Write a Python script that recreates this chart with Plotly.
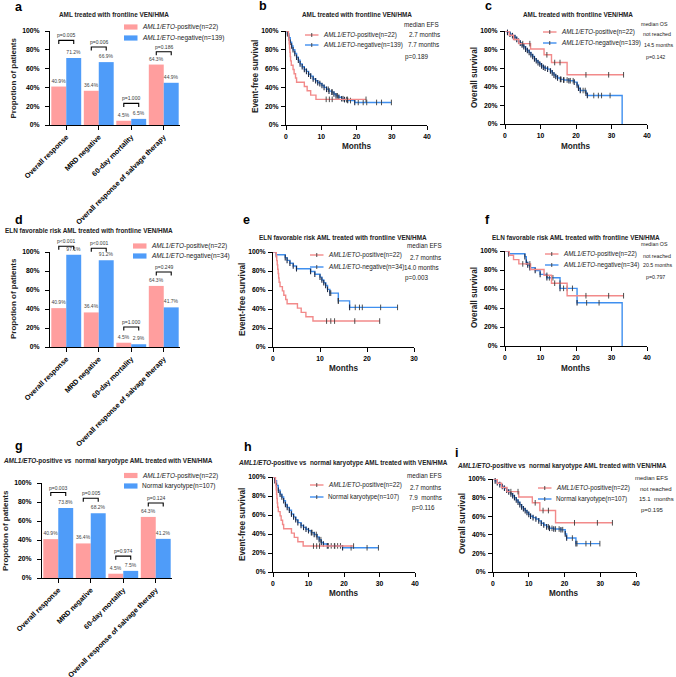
import plotly.graph_objects as go

# ---------------- data ----------------
CATEGORIES = ["Overall response", "MRD negative", "60-day mortality",
              "Overall response of salvage therapy"]
POS_RESP = [40.9, 36.4, 4.5, 64.3]          # AML1/ETO-positive (n=22)
NEG_RESP = [71.2, 66.9, 6.5, 44.9]          # AML1/ETO-negative (n=139)
FAV_NEG_RESP = [97.1, 91.2, 2.9, 41.7]      # AML1/ETO-negative (n=34), ELN favorable
NK_RESP = [73.8, 68.2, 7.5, 41.2]           # normal karyotype (n=107)
P_VALUES_A = ["p=0.005", "p=0.006", "p=1.000", "p=0.186"]
P_VALUES_D = ["p<0.001", "p<0.001", "p=1.000", "p=0.249"]
P_VALUES_G = ["p=0.003", "p=0.005", "p=0.974", "p=0.124"]

Y_TICKS = [0, 20, 40, 60, 80, 100]
Y_TICK_LABELS = ["0%", "20%", "40%", "60%", "80%", "100%"]
X_TICKS_40 = [0, 10, 20, 30, 40]
X_TICKS_30 = [0, 10, 20, 30]

# EFS, AML1/ETO-positive (n=22)
POS_EFS_T = [0, 0.7, 0.8, 0.9, 1.0, 1.1, 1.2, 1.3, 1.5, 2.0, 2.3, 2.7, 3.0, 5.2, 6.0, 7.0, 8.5, 22.7]
POS_EFS_S = [100, 95.5, 90.9, 86.4, 81.8, 77.3, 72.7, 68.2, 63.6, 59.1, 54.5, 50.0, 45.5, 40.9, 36.4, 31.8, 27.3, 27.3]
POS_EFS_CENS = [11.4, 12.3, 13.1, 17.4, 22.7]

# OS, AML1/ETO-positive (n=22)
POS_OS_T = [0, 1.2, 2.4, 3.9, 7.2, 11.0, 13.1, 17.5, 33.4]
POS_OS_S = [100, 95.5, 90.9, 86.4, 80.6, 74.4, 66.1, 52.9, 52.9]
POS_OS_CENS = [5.0, 7.0, 11.8, 14.0, 15.5, 22.8, 29.2, 33.4]

# EFS, AML1/ETO-negative (n=139)
NEG_EFS_T = [0, 0.4, 0.8, 1.2, 1.6, 2.0, 2.5, 3.0, 3.5, 4.0, 4.6, 5.2, 5.8, 6.4, 7.0, 7.7, 8.4,
             9.0, 9.6, 10.2, 10.8, 11.5, 12.2, 13.0, 13.6, 14.2, 15.0, 15.8, 16.6, 17.5, 19.5, 29.9]
NEG_EFS_S = [100, 97, 93, 88, 84, 80, 76, 72, 69, 65, 62, 59, 57, 54, 52, 49, 47,
             45, 44, 42, 40, 38, 36, 35, 33, 31, 29.5, 28, 27, 26, 24, 24]
NEG_EFS_CENS = [12.0, 13.1, 14.6, 16.2, 17.2, 18.3, 20.5, 21.9, 22.9, 25.7, 27.1, 29.9]

# OS, AML1/ETO-negative (n=139)
NEG_OS_T = [0, 0.7, 1.4, 2.1, 2.8, 3.3, 3.8, 4.3, 4.8, 5.3, 5.8, 6.3, 6.8, 7.3, 7.8, 8.3, 8.8,
            9.3, 9.8, 10.3, 10.8, 11.3, 12.0, 12.8, 13.3, 13.8, 14.3, 14.8, 15.6, 16.5, 18.0,
            19.5, 20.3, 20.7, 21.2, 22.8, 23.2, 33.0]
NEG_OS_S = [100, 98.5, 96.5, 95, 93, 91, 89, 87, 85, 83, 80.5, 79, 77, 74.5, 72.5, 70, 68,
            66, 64.5, 62.5, 61, 60, 59, 57, 55, 52.5, 51, 49.5, 48, 47.3, 46.5,
            45, 42, 38.5, 36, 33, 30.6, 0]
NEG_OS_CENS = [15.8, 16.6, 17.5, 18.4, 19.2, 22.0, 22.6, 25.0, 26.3, 27.2, 29.6]

# EFS, ELN favorable AML1/ETO-negative (n=34)
FAV_EFS_T = [0, 0.7, 2.6, 3.0, 3.6, 4.3, 5.0, 8.0, 8.9, 10.0, 10.4, 10.8, 11.2, 11.6, 12.1, 13.9, 16.3, 26.5]
FAV_EFS_S = [100, 97.1, 94.1, 91.2, 88.2, 85.3, 82.4, 79.4, 76.5, 73.5, 70.6, 67.6, 64.7, 60.7, 56.7, 48.6, 41.7, 41.7]
FAV_EFS_CENS = [12.3, 13.9, 17.5, 18.4, 19.0, 22.9, 26.5]

# OS, ELN favorable AML1/ETO-negative (n=34)
FAV_OS_T = [0, 1.0, 5.6, 6.0, 6.4, 7.0, 8.5, 9.9, 11.8, 15.5, 20.3, 33.0]
FAV_OS_S = [100, 97.1, 94.1, 88.2, 85.3, 82.4, 79.4, 75.4, 71.8, 60.7, 45.5, 0]
FAV_OS_CENS = [12.5, 13.5, 16.5, 17.5, 19.0, 23.0, 26.5]

# EFS, normal karyotype (n=107)
NK_EFS_T = [0, 0.5, 1.0, 1.5, 2.0, 2.5, 3.0, 3.5, 4.0, 4.6, 5.2, 5.8, 6.4, 7.0, 7.9, 8.6, 9.3,
            10.0, 10.8, 11.6, 12.4, 13.0, 13.6, 14.2, 15.3, 19.6, 29.7]
NK_EFS_S = [100, 96, 91, 86, 82, 79, 75, 71, 68, 65, 61, 58, 55, 52, 49, 47, 45,
            43.5, 41.5, 39.5, 37, 34, 31, 29.5, 27.5, 25.5, 25.5]
NK_EFS_CENS = [11.0, 12.2, 13.5, 15.6, 16.4, 17.3, 18.2, 19.0, 22.0, 26.5, 29.7]

# OS, normal karyotype (n=107)
NK_OS_T = [0, 0.6, 1.2, 1.9, 2.6, 3.2, 3.8, 4.4, 5.0, 5.5, 6.0, 6.5, 7.0, 7.5, 8.0, 8.5, 9.0,
           9.5, 10.0, 10.5, 11.2, 12.0, 12.8, 13.5, 14.2, 15.0, 15.8, 17.0, 19.0, 20.2, 20.6, 23.2, 29.9]
NK_OS_S = [100, 98, 96, 94, 92, 90, 88, 86, 84, 82, 80, 77.5, 75, 72.5, 70, 68, 66,
           64, 62, 60, 58.5, 57, 55, 52.5, 50.5, 48.5, 47, 46.2, 45.5, 41, 36.5, 30.5, 30.5]
NK_OS_CENS = [15.5, 16.5, 17.5, 18.5, 19.5, 22.2, 23.5, 26.0, 27.3, 29.9]

# ---------------- style / layout ----------------
W, H = 676, 677
FONT = "Arial, Liberation Sans, Helvetica, sans-serif"
RED_BAR = "#FF9E9E"
BLUE_BAR = "#4F9CF9"
RED_LINE = "#F28A8A"
BLUE_LINE = "#3F8FEF"
DARK = "#1f2a44"
TXT = "#222222"


def fx(px):
    return px / W


def fy(py):
    return 1 - py / H


# plot-area pixel boxes
PANELS = {
    "a": dict(x0=50, x1=180, yt=31, yb=125),
    "b": dict(x0=286, x1=427, yt=31, yb=125),
    "c": dict(x0=505, x1=647, yt=31, yb=124),
    "d": dict(x0=50, x1=180, yt=252, yb=347),
    "e": dict(x0=273, x1=414, yt=252, yb=347),
    "f": dict(x0=505, x1=647, yt=251, yb=346),
    "g": dict(x0=42, x1=172, yt=483, yb=578),
    "h": dict(x0=273, x1=415, yt=477, yb=572),
    "i": dict(x0=493, x1=636, yt=479, yb=572),
}
AX = {k: i + 1 for i, k in enumerate("abcdefghi")}


def sfx(k):
    n = AX[k]
    return "" if n == 1 else str(n)


fig = go.Figure()
shapes = []
annotations = []


def text(x, y, s, size, xanchor="left", yanchor="middle", angle=0, color=TXT):
    annotations.append(dict(x=fx(x), y=fy(y), xref="paper", yref="paper", text=s,
                            showarrow=False, xanchor=xanchor, yanchor=yanchor,
                            textangle=angle, font=dict(family=FONT, size=size, color=color)))


def line_px(x0, y0, x1, y1, color, width=1.0):
    shapes.append(dict(type="line", xref="paper", yref="paper",
                       x0=fx(x0), y0=fy(y0), x1=fx(x1), y1=fy(y1),
                       line=dict(color=color, width=width)))


def rect_px(x0, y0, x1, y1, color):
    shapes.append(dict(type="rect", xref="paper", yref="paper",
                       x0=fx(x0), y0=fy(y0), x1=fx(x1), y1=fy(y1),
                       line=dict(width=0), fillcolor=color))


axis_common = dict(showline=True, linecolor="black", linewidth=1.2, ticks="outside",
                   ticklen=4, tickwidth=1.2, tickcolor="black", showgrid=False,
                   zeroline=False, fixedrange=True, automargin=False)
tick_font = dict(family=FONT, size=6.8, color="black", weight="bold")

layout_axes = {}
for k, p in PANELS.items():
    s = sfx(k)
    layout_axes["xaxis" + s] = dict(domain=[fx(p["x0"]), fx(p["x1"])], anchor="y" + s,
                                    tickfont=tick_font, **axis_common)
    layout_axes["yaxis" + s] = dict(domain=[fy(p["yb"]), fy(p["yt"])], anchor="x" + s,
                                    range=[0, 100], tickvals=Y_TICKS, ticktext=Y_TICK_LABELS,
                                    tickfont=tick_font, **axis_common)

# ---------------- bar panels ----------------
BAR_PANELS = [
    ("a", NEG_RESP, P_VALUES_A, "<i>AML1/ETO</i>-negative(n=139)", [90, 83, 23, 78],
     "AML treated with frontline VEN/HMA", (114, 15), (124, 27, 38)),
    ("d", FAV_NEG_RESP, P_VALUES_D, "<i>AML1/ETO</i>-negative(n=34)", [106, 104, 21, 79],
     "ELN favorable risk AML treated with frontline VEN/HMA", (89, 230), (133, 246, 256)),
    ("g", NK_RESP, P_VALUES_G, "Normal karyotype(n=107)", [90, 84, 23, 79],
     "<i>AML1/ETO</i>-positive vs  normal karyotype AML treated with VEN/HMA", (108, 461), (124, 475.5, 486)),
]
YTITLE_BAR = {"a": (13.5, 78), "d": (13, 299), "g": (5, 531)}

for k, neg, pvals, neglabel, blevels, title, tpos, leg in BAR_PANELS:
    s = sfx(k)
    for vals, col in ((POS_RESP, RED_BAR), (neg, BLUE_BAR)):
        fig.add_trace(go.Bar(x=CATEGORIES, y=vals, xaxis="x" + s, yaxis="y" + s,
                             marker=dict(color=col, line=dict(width=0)),
                             texttemplate="%{y:.1f}%", textposition="outside",
                             cliponaxis=False, constraintext="none",
                             textfont=dict(family=FONT, size=5, color="#444"),
                             showlegend=False, hoverinfo="skip"))
    layout_axes["xaxis" + s].update(type="category", range=[-0.5, 3.5], tickangle=-45,
                                    tickfont=dict(family=FONT, size=7.2, color="black", weight="bold"))
    layout_axes["yaxis" + s].update(ticklabelstandoff=4)
    p = PANELS[k]
    cw = (p["x1"] - p["x0"]) / 4
    ppp = (p["yb"] - p["yt"]) / 100.0
    for i, lev in enumerate(blevels):
        xr = p["x0"] + (i + 0.5 - 0.23) * cw
        xb = p["x0"] + (i + 0.5 + 0.23) * cw
        ytop = p["yb"] - lev * ppp
        yarm = ytop + 3.5
        shapes.append(dict(type="path", xref="paper", yref="paper",
                           path=f"M {fx(xr)},{fy(yarm)} L {fx(xr)},{fy(ytop)} L {fx(xb)},{fy(ytop)} L {fx(xb)},{fy(yarm)}",
                           line=dict(color="black", width=1.1)))
        text((xr + xb) / 2, ytop - 5, pvals[i], 5, xanchor="center", color="#333")
    text(tpos[0], tpos[1], "<b>" + title + "</b>", 6.4, xanchor="center")
    lx, ly1, ly2 = leg
    rect_px(lx, ly1 - 2.6, lx + 13.5, ly1 + 2.6, RED_BAR)
    rect_px(lx, ly2 - 2.6, lx + 13.5, ly2 + 2.6, BLUE_BAR)
    text(lx + 16, ly1, "<i>AML1/ETO</i>-positive(n=22)", 6.5)
    text(lx + 16, ly2, neglabel, 6.5)
    yt = YTITLE_BAR[k]
    text(yt[0], yt[1], "<b>Propotion of patients</b>", 8, xanchor="center", angle=-90)


# ---------------- KM panels ----------------
def surv_at(T, S, t):
    v = S[0]
    for ti, si in zip(T, S):
        if ti <= t:
            v = si
    return v


KM_PANELS = [
    dict(k="b", xr=40, xt=X_TICKS_40, red=(POS_EFS_T, POS_EFS_S, POS_EFS_CENS),
         blue=(NEG_EFS_T, NEG_EFS_S, NEG_EFS_CENS), ytitle="Event-free survival", ytp=(256, 77),
         title="AML treated with frontline VEN/HMA", tpos=(357, 15), mpos=(357, 146),
         leg=(305, 35, 45), negl="<i>AML1/ETO</i>-negative(n=139)", msize=6.3,
         med=[("median EFS", 402, 24), ("2.7 months", 407, 35), ("7.7 months", 406, 45), ("p=0.189", 403, 57)]),
    dict(k="c", xr=40, xt=X_TICKS_40, red=(POS_OS_T, POS_OS_S, POS_OS_CENS),
         blue=(NEG_OS_T, NEG_OS_S, NEG_OS_CENS), ytitle="Overall survival", ytp=(475, 78),
         title="AML treated with frontline VEN/HMA", tpos=(578, 15), mpos=(576, 146),
         leg=(543, 32, 43), negl="<i>AML1/ETO</i>-negative(n=139)", msize=5.3,
         med=[("median OS", 639, 24), ("not reached", 641, 34), ("14.5 months", 642, 45), ("p=0.142", 644, 57)]),
    dict(k="e", xr=30, xt=X_TICKS_30, red=(POS_EFS_T, POS_EFS_S, POS_EFS_CENS),
         blue=(FAV_EFS_T, FAV_EFS_S, FAV_EFS_CENS), ytitle="Event-free survival", ytp=(242, 300),
         title="ELN favorable risk AML treated with frontline VEN/HMA", tpos=(343, 238), mpos=(344, 368),
         leg=(310, 255, 267), negl="<i>AML1/ETO</i>-negative(n=34)", msize=6.3,
         med=[("median EFS", 405, 245), ("2.7 months", 408, 257), ("14.0 months", 402, 267), ("p=0.003", 403, 278)]),
    dict(k="f", xr=40, xt=X_TICKS_40, red=(POS_OS_T, POS_OS_S, POS_OS_CENS),
         blue=(FAV_OS_T, FAV_OS_S, FAV_OS_CENS), ytitle="Overall survival", ytp=(475, 298),
         title="ELN favorable risk AML treated with frontline VEN/HMA", tpos=(576, 238), mpos=(576, 368),
         leg=(545, 254, 265), negl="<i>AML1/ETO</i>-negative(n=34)", msize=5.3,
         med=[("median OS", 639, 244), ("not reached", 641, 256), ("20.5 months", 641, 265), ("p=0.797", 644, 277)]),
    dict(k="h", xr=40, xt=X_TICKS_40, red=(POS_EFS_T, POS_EFS_S, POS_EFS_CENS),
         blue=(NK_EFS_T, NK_EFS_S, NK_EFS_CENS), ytitle="Event-free survival", ytp=(242, 525),
         title="<i>AML1/ETO</i>-positive vs  normal karyotype AML treated with VEN/HMA", tpos=(343, 463),
         mpos=(344, 593), leg=(310, 485, 497), negl="Normal karyotype(n=107)", msize=6.3,
         med=[("median EFS", 405, 475), ("2.7 months", 408, 487), ("7.9  months", 407, 497), ("p=0.116", 410, 508)]),
    dict(k="i", xr=40, xt=X_TICKS_40, red=(POS_OS_T, POS_OS_S, POS_OS_CENS),
         blue=(NK_OS_T, NK_OS_S, NK_OS_CENS), ytitle="Overall survival", ytp=(462, 524),
         title="<i>AML1/ETO</i>-positive vs  normal karyotype AML treated with VEN/HMA", tpos=(562, 466),
         mpos=(564, 593), leg=(538, 488, 499), negl="Normal karyotype(n=107)", msize=6.0,
         med=[("median EFS", 633, 478), ("not reached", 638, 489), ("15.1  months", 637, 499), ("p=0.195", 639, 510)]),
]

for cfg in KM_PANELS:
    k = cfg["k"]
    s = sfx(k)
    layout_axes["xaxis" + s].update(range=[0, cfg["xr"]], tickvals=cfg["xt"], ticklabelstandoff=1)
    layout_axes["yaxis" + s].update(ticklabelstandoff=1)
    for (T, S, C), col, dense in ((cfg["blue"], BLUE_LINE, True), (cfg["red"], RED_LINE, False)):
        fig.add_trace(go.Scatter(x=T, y=S, xaxis="x" + s, yaxis="y" + s, mode="lines",
                                 line=dict(color=col, width=1.4, shape="hv"),
                                 cliponaxis=False, showlegend=False, hoverinfo="skip"))
        if dense:
            fig.add_trace(go.Scatter(x=T[1:-1], y=S[1:-1], xaxis="x" + s, yaxis="y" + s,
                                     mode="markers", cliponaxis=False,
                                     marker=dict(symbol="line-ns", size=4,
                                                 line=dict(color=DARK, width=1.1)),
                                     showlegend=False, hoverinfo="skip"))
        fig.add_trace(go.Scatter(x=C, y=[surv_at(T, S, c) for c in C], xaxis="x" + s, yaxis="y" + s,
                                 mode="markers", cliponaxis=False,
                                 marker=dict(symbol="line-ns", size=4,
                                             line=dict(color="#3a3a3a", width=0.9)),
                                 showlegend=False, hoverinfo="skip"))
    text(cfg["tpos"][0], cfg["tpos"][1], "<b>" + cfg["title"] + "</b>", 6.4, xanchor="center")
    text(cfg["mpos"][0], cfg["mpos"][1], "<b>Months</b>", 8.2, xanchor="center")
    text(cfg["ytp"][0], cfg["ytp"][1], "<b>" + cfg["ytitle"] + "</b>", 8.2, xanchor="center", angle=-90)
    lx, ly1, ly2 = cfg["leg"]
    for ly, col in ((ly1, RED_LINE), (ly2, BLUE_LINE)):
        line_px(lx, ly, lx + 13.5, ly, col, 1.4)
        line_px(lx + 6.75, ly - 2, lx + 6.75, ly + 2, "#3a3a3a", 0.9)
    text(lx + 16, ly1, "<i>AML1/ETO</i>-positive(n=22)", 6.3)
    text(lx + 16, ly2, cfg["negl"], 6.3)
    for st, mx, my in cfg["med"]:
        text(mx, my, st, cfg["msize"])

# panel letters
for lab, (lx, ly) in {"a": (13, 7), "b": (257, 6), "c": (483, 6), "d": (13, 220), "e": (241, 220),
                      "f": (483, 220), "g": (13, 446), "h": (242, 447), "i": (453, 453)}.items():
    text(lx, ly, "<b>" + lab + "</b>", 12.5, color="black")

fig.update_layout(width=W, height=H, margin=dict(l=0, r=0, t=0, b=0, autoexpand=False),
                  paper_bgcolor="white", plot_bgcolor="white", showlegend=False,
                  barmode="group", bargap=0.08, bargroupgap=0,
                  font=dict(family=FONT, color=TXT),
                  shapes=shapes, annotations=annotations, **layout_axes)

fig.write_html("out.html", config={"displayModeBar": False},
               post_script="document.body.style.margin='0';document.body.style.padding='0';document.body.style.overflow='hidden';")
